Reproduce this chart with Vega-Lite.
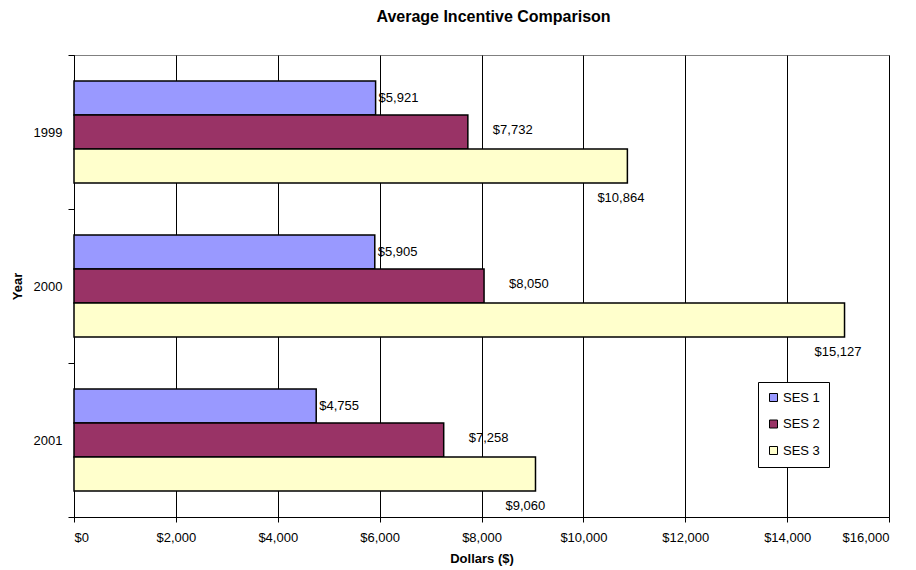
{
  "$schema": "https://vega.github.io/schema/vega-lite/v6.json",
  "width": 815,
  "height": 462,
  "autosize": "none",
  "padding": {"left": 74, "top": 55, "right": 27, "bottom": 53},
  "background": "white",
  "config": {
    "font": "Liberation Sans",
    "view": {"stroke": "#808080", "strokeWidth": 1}
  },
  "title": {
    "text": "Average Incentive Comparison",
    "fontSize": 16,
    "fontWeight": "bold",
    "color": "#000",
    "anchor": "middle",
    "offset": 24,
    "dx": 12
  },
  "data": {
    "values": [
      {"year": "1999", "series": "SES 1", "value": 5921},
      {"year": "1999", "series": "SES 2", "value": 7732},
      {"year": "1999", "series": "SES 3", "value": 10864},
      {"year": "2000", "series": "SES 1", "value": 5905},
      {"year": "2000", "series": "SES 2", "value": 8050},
      {"year": "2000", "series": "SES 3", "value": 15127},
      {"year": "2001", "series": "SES 1", "value": 4755},
      {"year": "2001", "series": "SES 2", "value": 7258},
      {"year": "2001", "series": "SES 3", "value": 9060}
    ]
  },
  "encoding": {
    "y": {
      "field": "year",
      "type": "nominal",
      "title": "Year",
      "scale": {"paddingInner": 0, "paddingOuter": 0},
      "axis": {
        "tickBand": "extent",
        "tickSize": 6,
        "tickColor": "#000",
        "domainColor": "#000",
        "labelFontSize": 13,
        "labelColor": "#000",
        "labelPadding": 6,
        "titleFontSize": 13,
        "titleFontWeight": "bold",
        "titleColor": "#000",
        "titlePadding": 9
      }
    },
    "yOffset": {
      "field": "series",
      "type": "nominal",
      "scale": {"paddingInner": 0, "paddingOuter": 0.765}
    },
    "x": {
      "field": "value",
      "type": "quantitative",
      "title": "Dollars ($)",
      "scale": {"domain": [0, 16000], "nice": false},
      "axis": {
        "values": [0, 2000, 4000, 6000, 8000, 10000, 12000, 14000, 16000],
        "format": "$,.0f",
        "grid": true,
        "gridColor": "#000",
        "gridOpacity": 1,
        "domainColor": "#000",
        "tickColor": "#000",
        "tickSize": 5,
        "labelFontSize": 13,
        "labelColor": "#000",
        "labelPadding": 9,
        "titleFontSize": 13,
        "titleFontWeight": "bold",
        "titleColor": "#000",
        "titlePadding": 8
      }
    }
  },
  "layer": [
    {
      "mark": {"type": "bar", "stroke": "#000", "strokeWidth": 1.5},
      "encoding": {
        "color": {
          "field": "series",
          "type": "nominal",
          "scale": {"domain": ["SES 1", "SES 2", "SES 3"], "range": ["#9999FF", "#993366", "#FFFFCC"]},
          "legend": {
            "title": null,
            "orient": "none",
            "legendX": 684,
            "legendY": 327,
            "strokeColor": "#000",
            "fillColor": "#fff",
            "padding": 9,
            "symbolType": "square",
            "symbolSize": 64,
            "symbolStrokeColor": "#000",
            "symbolStrokeWidth": 1,
            "symbolOpacity": 1,
            "labelFontSize": 13,
            "labelColor": "#000",
            "labelOffset": 3,
            "rowPadding": 12.5
          }
        }
      }
    },
    {
      "transform": [{"filter": "datum.series == 'SES 1'"}],
      "mark": {"type": "text", "align": "left", "baseline": "middle", "dx": 3, "fontSize": 13, "color": "#000"},
      "encoding": {"text": {"field": "value", "type": "quantitative", "format": "$,.0f"}}
    },
    {
      "transform": [{"filter": "datum.series == 'SES 2'"}],
      "mark": {"type": "text", "align": "left", "baseline": "middle", "dx": 25, "dy": -2, "fontSize": 13, "color": "#000"},
      "encoding": {"text": {"field": "value", "type": "quantitative", "format": "$,.0f"}}
    },
    {
      "transform": [{"filter": "datum.series == 'SES 3'"}],
      "mark": {"type": "text", "align": "left", "baseline": "middle", "dx": -30, "dy": 32, "fontSize": 13, "color": "#000"},
      "encoding": {"text": {"field": "value", "type": "quantitative", "format": "$,.0f"}}
    }
  ]
}
